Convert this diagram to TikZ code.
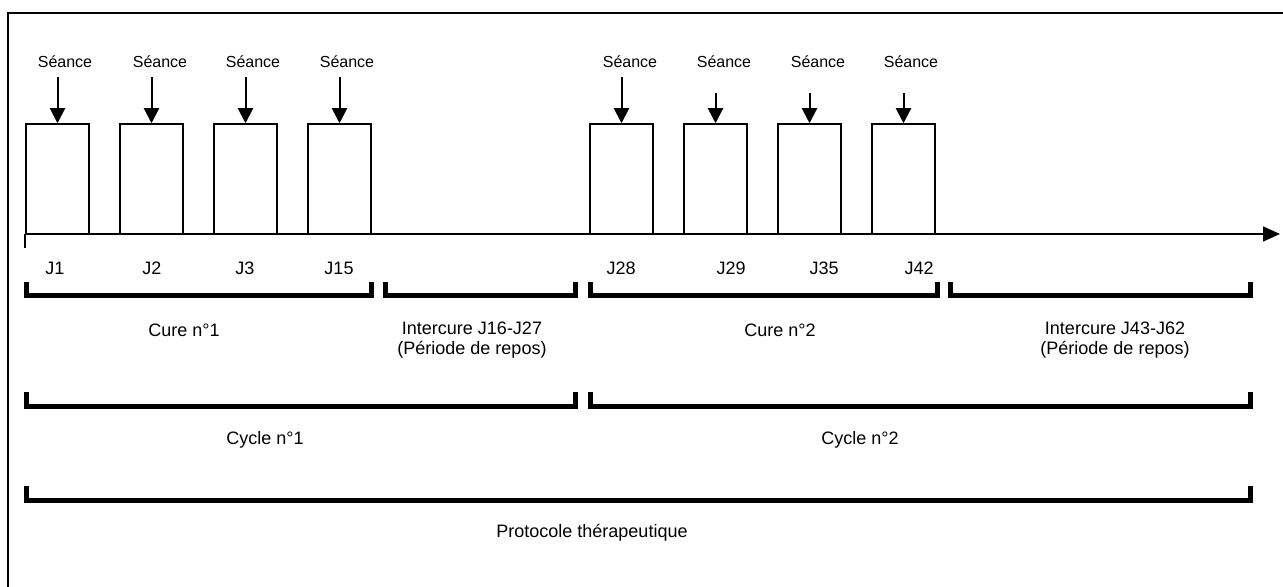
\documentclass[tikz,border=0pt]{standalone}
\usepackage{fontspec}
\setmainfont{Liberation Sans}
\usetikzlibrary{arrows.meta,positioning,calc}

\begin{document}
\begin{tikzpicture}[
    x=0.5pt, y=-0.5pt,
    session/.style={rectangle, draw, line width=0.75pt, minimum width=31.5pt, minimum height=55pt, inner sep=0pt},
    tag/.style={font=\fontsize{8}{9.5}\selectfont, inner sep=1pt},
    day/.style={font=\fontsize{9}{10}\selectfont, inner sep=1pt},
    phase/.style={font=\fontsize{9}{10}\selectfont, align=center, inner sep=1pt},
    bracket/.style={line width=2.5pt},
    arrow/.style={-{Triangle[length=7.5pt,width=7.5pt]}, line width=1pt},
    axis/.style={-{Triangle[length=8.5pt,width=7.5pt]}, line width=0.75pt}
]
\useasboundingbox (0,0) rectangle (1283,587);

% Frame (cut at right and bottom)
\draw[line width=1pt] (8,587) -- (8,13) -- (1283,13);

% Time axis
\coordinate (origin) at (25,234);
\coordinate (end) at (1280,234);
\draw[axis] (origin) -- (end);
\draw[line width=0.75pt] (origin) -- ++(0,14);

% Sessions of cure 1
\node[session] (b1) at (57.5,179) {};
\node[session] (b2) at (151.5,179) {};
\node[session] (b3) at (245.5,179) {};
\node[session] (b4) at (339.5,179) {};

% Sessions of cure 2
\node[session] (b5) at (621.5,179) {};
\node[session] (b6) at (715.5,179) {};
\node[session] (b7) at (809.5,179) {};
\node[session] (b8) at (903.5,179) {};

% Seance labels
\node[tag] (t1) at (65,62) {Séance};
\node[tag] (t2) at (160,62) {Séance};
\node[tag] (t3) at (253,62) {Séance};
\node[tag] (t4) at (347,62) {Séance};
\node[tag] (t5) at (630,62) {Séance};
\node[tag] (t6) at (724,62) {Séance};
\node[tag] (t7) at (818,62) {Séance};
\node[tag] (t8) at (911,62) {Séance};

% Arrow starts
\coordinate (s1) at ($(b1.north)+(0,-46)$);
\coordinate (s2) at ($(b2.north)+(0,-46)$);
\coordinate (s3) at ($(b3.north)+(0,-46)$);
\coordinate (s4) at ($(b4.north)+(0,-46)$);
\coordinate (s5) at ($(b5.north)+(0,-46)$);
\coordinate (s6) at ($(b6.north)+(0,-30)$);
\coordinate (s7) at ($(b7.north)+(0,-30)$);
\coordinate (s8) at ($(b8.north)+(0,-30)$);

\draw[arrow] (s1) -- (b1.north);
\draw[arrow] (s2) -- (b2.north);
\draw[arrow] (s3) -- (b3.north);
\draw[arrow] (s4) -- (b4.north);
\draw[arrow] (s5) -- (b5.north);
\draw[arrow] (s6) -- (b6.north);
\draw[arrow] (s7) -- (b7.north);
\draw[arrow] (s8) -- (b8.north);

% Days
\node[day] (j1) at (55,268) {J1};
\node[day] (j2) at (152,268) {J2};
\node[day] (j3) at (245,268) {J3};
\node[day] (j15) at (339,268) {J15};
\node[day] (j28) at (621,268) {J28};
\node[day] (j29) at (731,268) {J29};
\node[day] (j35) at (824,268) {J35};
\node[day] (j42) at (919,268) {J42};

% Cures and intercures
\draw[bracket] (26,282) -- (26,296) -- (371,296) -- (371,282);
\draw[bracket] (385,282) -- (385,296) -- (575,296) -- (575,282);
\draw[bracket] (590,282) -- (590,296) -- (937,296) -- (937,282);
\draw[bracket] (950,282) -- (950,296) -- (1250,296) -- (1250,282);
\node[phase] (cure1) at (184,330) {Cure n°1};
\node[phase] (inter1) at (472,340) {Intercure J16-J27\\(Période de repos)};
\node[phase] (cure2) at (780,330) {Cure n°2};
\node[phase] (inter2) at (1115,340) {Intercure J43-J62\\(Période de repos)};

% Cycles
\draw[bracket] (26,392) -- (26,406) -- (575,406) -- (575,392);
\draw[bracket] (590,392) -- (590,406) -- (1250,406) -- (1250,392);
\node[phase] (cycle1) at (265,440) {Cycle n°1};
\node[phase] (cycle2) at (860,440) {Cycle n°2};

% Protocol
\draw[bracket] (26,486) -- (26,500) -- (1250,500) -- (1250,486);
\node[phase] (protocol) at (592,533) {Protocole thérapeutique};

\end{tikzpicture}
\end{document}
